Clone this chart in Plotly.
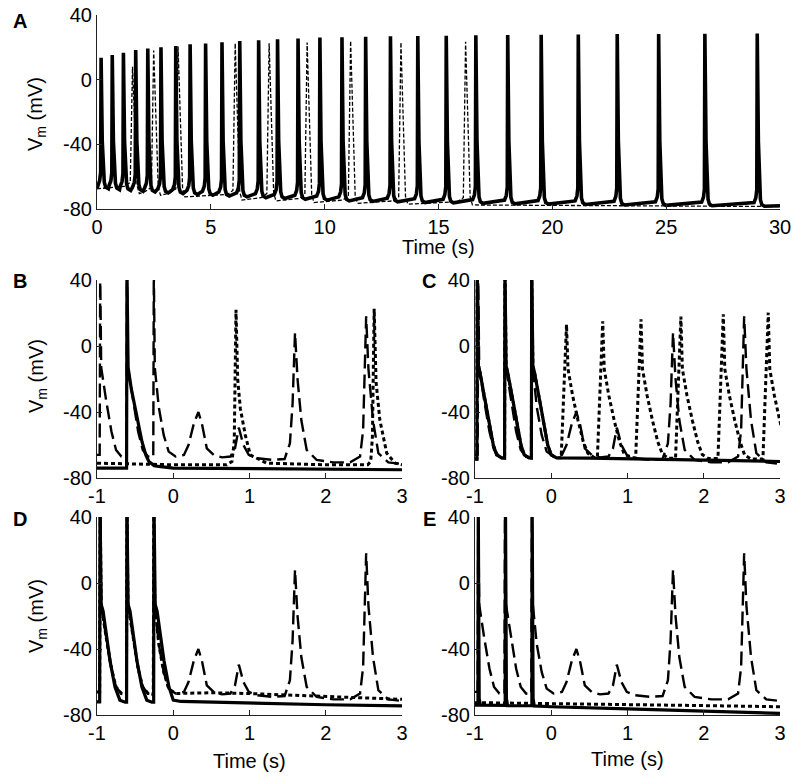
import plotly.graph_objects as go

W, H = 804, 782
FONT = "Arial, Liberation Sans, sans-serif"

# ---------------- Panel A data ----------------
A_SOLID_SPIKE_T = [0.18, 0.67, 1.16, 1.70, 2.23, 2.81, 3.46, 4.09, 4.77, 5.49, 6.27, 7.10, 7.93, 8.83,
                   9.79, 10.76, 11.80, 12.89, 14.09, 15.34, 16.64, 18.04, 19.51, 21.14, 22.85, 24.67,
                   26.70, 29.00]
A_SOLID_PEAK = [13.5, 15.3, 16.7, 18.4, 19.2, 20.0, 20.8, 21.9, 22.3, 23.1, 23.9, 24.4, 25.0, 25.4,
                26.0, 26.3, 26.6, 26.8, 27.0, 27.2, 27.4, 27.6, 27.8, 28.0, 28.2, 28.3, 28.4, 28.5]
A_SOLID_TROUGH = [-67.5, -68.0, -68.5, -69.0, -69.5, -70.0, -70.5, -71.0, -71.5, -72.0, -72.5, -73.0,
                  -73.5, -74.0, -74.5, -75.0, -75.3, -75.6, -76.0, -76.2, -76.5, -76.8, -77.0, -77.2,
                  -77.5, -77.7, -78.0, -78.3]
A_SOLID_START = (0.0, -67.2)
A_SOLID_END = (30.0, -78.0)

A_DASH_SPIKE_T = [1.56, 2.49, 3.56, 6.07, 7.56, 9.23, 11.14, 13.35, 16.19]
A_DASH_PEAK = [8.0, 18.0, 20.5, 22.5, 22.5, 23.0, 24.0, 23.0, 23.5]
A_DASH_TROUGH = [-70.5, -71.5, -72.5, -74.5, -75.0, -76.0, -76.5, -77.0, -77.5]
A_DASH_START = (0.0, -67.5)
A_DASH_END = (30.0, -78.5)

# ---------------- Panels B-E: shared control trace (long dashes) ----------------
CTRL_T = [-1.0, -0.965, -0.958, -0.945, -0.88, -0.81, -0.75, -0.68, -0.614, -0.607, -0.594, -0.53,
          -0.46, -0.40, -0.33, -0.262, -0.255, -0.242, -0.19, -0.125, -0.06, 0.03, 0.14, 0.20, 0.27,
          0.33, 0.38, 0.44, 0.53, 0.64, 0.75, 0.81, 0.86, 0.92, 0.99, 1.10, 1.30, 1.46, 1.53, 1.565,
          1.597, 1.63, 1.68, 1.75, 1.88, 2.10, 2.32, 2.45, 2.49, 2.53, 2.56, 2.62, 2.69, 2.82, 3.0]
CTRL_V = [-66, -66, 45, -13, -33, -52, -63, -67, -67.5, 45, -13, -33, -52, -63, -67, -67.5, 45, -13,
          -37, -54, -64, -67, -66, -60, -47, -40, -48, -62, -66, -67.5, -67, -62, -49.5, -60, -66,
          -68, -69, -68.5, -59, -35, 8, -20, -45, -63, -69, -70.5, -70.5, -67, -51, 18, -14, -45,
          -65, -70.5, -71.5]
CTRL_PRE_ZERO_N = 22  # points of the control trace up to t = 0.03

# Panel B
B_SOLID_T = [-1.0, -0.612, -0.607, -0.592, -0.55, -0.497, -0.45, -0.41, -0.36, -0.32, -0.25, -0.19,
             0.0, 1.0, 2.0, 3.0]
B_SOLID_V = [-74, -74, 45, -13, -26, -38, -50, -58, -66, -70, -72.5, -73, -74, -74.3, -74.7, -75]
B_DOT_T = [-1.0, -0.6, 0.0, 0.70, 0.77, 0.80, 0.823, 0.845, 0.88, 0.945, 1.01, 1.05, 1.225, 2.0,
           2.55, 2.59, 2.612, 2.635, 2.66, 2.71, 2.80, 2.91, 3.0]
B_DOT_V = [-71, -71.5, -72, -72, -70, -58, 22, -20, -38, -54, -66, -67, -71, -72, -72, -70, -55,
           22.5, -22, -45, -65, -71, -72]

# Panel C
C_SOLID_T = [-1.0, -0.975, -0.97, -0.955, -0.935, -0.87, -0.80, -0.76, -0.715, -0.65, -0.612,
             -0.607, -0.592, -0.572, -0.507, -0.44, -0.397, -0.353, -0.29, -0.261,
             -0.256, -0.241, -0.22, -0.156, -0.09, -0.046, 0.0, 0.07, 0.5, 1.0, 2.0, 3.0]
C_SOLID_V = [-68.5, -68.5, 45, -12, -16, -32, -50, -60, -66, -67.8, -68,
             45, -12, -16, -32, -50, -60, -66, -67.8, -68,
             45, -12, -16, -32, -50, -60, -66, -67.8, -68, -68.3, -69, -70]
C_PRE_ZERO_N = 28  # points of the C solid trace up to t = 0.07
C_DOT_SPIKE_T = [0.20, 0.675, 1.177, 1.70, 2.256, 2.846]
C_DOT_PEAK = [13.0, 15.0, 16.2, 17.8, 19.2, 20.2]
C_DOT_TROUGH = [-67.5, -67.7, -68.0, -68.2, -68.5, -68.7]

# Panel D
D_SOLID_T = [-1.0, -0.965, -0.96, -0.945, -0.92, -0.83, -0.764, -0.70, -0.63, -0.612,
             -0.607, -0.592, -0.567, -0.477, -0.411, -0.347, -0.28, -0.257,
             -0.252, -0.237, -0.212, -0.122, -0.056, 0.0, 0.1, 1.0, 2.0, 3.0]
D_SOLID_V = [-72, -72, 45, -13, -17, -47, -63, -71, -72.2, -72.2,
             45, -13, -17, -47, -63, -71, -72.2, -72.2,
             45, -13, -17, -47, -63, -71, -71.8, -72.8, -73.8, -74.5]
D_DOT_TAIL_T = [0.5, 1.0, 1.6, 2.5, 3.0]
D_DOT_TAIL_V = [-66.5, -67, -68, -69.5, -70.5]

# Panel E
E_SOLID_T = [-1.0, -0.961, -0.957, -0.945, -0.93, -0.604, -0.6, -0.588, -0.573, -0.254, -0.25,
             -0.238, -0.223, 0.0, 1.0, 2.0, 3.0]
E_SOLID_V = [-74, -74, 45, -70, -74, -74.2, 45, -70, -74.3, -74.4, 45, -70, -74.5, -75, -76.3,
             -77.7, -79]
E_DOT_T = [-1.0, -0.5, 0.0, 1.0, 2.0, 3.0]
E_DOT_V = [-72.5, -72.7, -73, -73.7, -74.3, -75]

Y_TICKS = [-80, -40, 0, 40]
A_X_TICKS = [0, 5, 10, 15, 20, 25, 30]
BE_X_TICKS = [-1, 0, 1, 2, 3]


def build_train(start, times, peaks, troughs, shape, end=None):
    ts, vs = [start[0]], [start[1]]
    prev = start[1]
    for t0, p, m in zip(times, peaks, troughs):
        for dt, kind, val in shape:
            ts.append(t0 + dt)
            if kind == "pre":
                vs.append(prev + val)
            elif kind == "peak":
                vs.append(p)
            elif kind == "abs":
                vs.append(val)
            else:
                vs.append(m + val)
        prev = m
    if end is not None:
        ts.append(end[0])
        vs.append(end[1])
    return ts, vs


SOLID_A_SHAPE = [(-0.14, "pre", 2), (-0.06, "pre", 5), (-0.02, "pre", 10), (0, "peak", 0),
                 (0.05, "abs", -38), (0.09, "abs", -55), (0.14, "post", 4), (0.2, "post", 1),
                 (0.32, "post", 0)]
DASH_A_SHAPE = [(-0.35, "pre", 1.5), (-0.1, "pre", 4), (0, "peak", 0), (0.2, "post", 5),
                (0.3, "post", 0)]
DOT_C_SHAPE = [(-0.07, "pre", 0), (0, "peak", 0), (0.02, "abs", -14), (0.08, "abs", -30),
               (0.15, "abs", -45), (0.22, "abs", -58), (0.28, "post", 2.5), (0.36, "post", 0)]

a_sol_t, a_sol_v = build_train(A_SOLID_START, A_SOLID_SPIKE_T, A_SOLID_PEAK, A_SOLID_TROUGH,
                               SOLID_A_SHAPE, A_SOLID_END)
a_dash_t, a_dash_v = build_train(A_DASH_START, A_DASH_SPIKE_T, A_DASH_PEAK, A_DASH_TROUGH,
                                 DASH_A_SHAPE, A_DASH_END)
c_dot_t2, c_dot_v2 = build_train((C_SOLID_T[C_PRE_ZERO_N - 1], C_SOLID_V[C_PRE_ZERO_N - 1]),
                                 C_DOT_SPIKE_T, C_DOT_PEAK, C_DOT_TROUGH, DOT_C_SHAPE)
c_dot_t = C_SOLID_T[:C_PRE_ZERO_N - 1] + c_dot_t2
c_dot_v = C_SOLID_V[:C_PRE_ZERO_N - 1] + c_dot_v2
d_dot_t = CTRL_T[:CTRL_PRE_ZERO_N] + D_DOT_TAIL_T
d_dot_v = CTRL_V[:CTRL_PRE_ZERO_N] + D_DOT_TAIL_V

SOLID_A = dict(color="black", width=3.6)
SOLID = dict(color="black", width=3.2)
LONGDASH = dict(color="black", width=2.4, dash="14px,6px")
DOT = dict(color="black", width=3.0, dash="4px,3px")
THIN_DASH = dict(color="black", width=1.3, dash="4px,2px")

fig = go.Figure()


def add(x, y, line, ax):
    fig.add_trace(go.Scatter(x=x, y=y, mode="lines", line=line, showlegend=False,
                             hoverinfo="skip", xaxis="x" + ax, yaxis="y" + ax))


# A
add(a_dash_t, a_dash_v, THIN_DASH, "")
add(a_sol_t, a_sol_v, SOLID_A, "")
# B
add(CTRL_T, CTRL_V, LONGDASH, "2")
add(B_DOT_T, B_DOT_V, DOT, "2")
add(B_SOLID_T, B_SOLID_V, SOLID, "2")
# C
add(CTRL_T, CTRL_V, LONGDASH, "3")
add(c_dot_t, c_dot_v, DOT, "3")
add(C_SOLID_T, C_SOLID_V, SOLID, "3")
# D
add(CTRL_T, CTRL_V, LONGDASH, "4")
add(d_dot_t, d_dot_v, DOT, "4")
add(D_SOLID_T, D_SOLID_V, SOLID, "4")
# E
add(CTRL_T, CTRL_V, LONGDASH, "5")
add(E_DOT_T, E_DOT_V, DOT, "5")
add(E_SOLID_T, E_SOLID_V, SOLID, "5")


def px_x(p):
    return p / W


def px_y(p):
    return 1 - p / H


def axis(dom, rng, ticks, anchor):
    return dict(domain=dom, range=rng, tickvals=ticks, ticktext=[str(t) for t in ticks],
                showline=True, linecolor="#222", linewidth=1.2, ticks="inside", ticklen=5,
                tickcolor="#222", showgrid=False, zeroline=False, mirror=False,
                tickfont=dict(family=FONT, size=20, color="black"), anchor=anchor,
                ticklabelstandoff=0, ticklabeloverflow="allow", fixedrange=True,
                automargin=False)


panels = {
    "": ((97, 780), (15, 209), (0, 30), A_X_TICKS),
    "2": ((97, 402), (280, 478), (-1, 3), BE_X_TICKS),
    "3": ((475, 780), (280, 478), (-1, 3), BE_X_TICKS),
    "4": ((97, 402), (517, 715), (-1, 3), BE_X_TICKS),
    "5": ((475, 780), (517, 715), (-1, 3), BE_X_TICKS),
}
layout_axes = {}
for k, ((x0, x1), (y0, y1), xr, xt) in panels.items():
    layout_axes["xaxis" + k] = axis([px_x(x0), px_x(x1)], list(xr), xt, "y" + k)
    layout_axes["yaxis" + k] = axis([px_y(y1), px_y(y0)], [-80, 40], Y_TICKS, "x" + k)

ann = []


def label(text, x, y, size=20, bold=False, angle=0):
    ann.append(dict(text=("<b>%s</b>" % text) if bold else text, x=px_x(x), y=px_y(y),
                    xref="paper", yref="paper", showarrow=False, textangle=angle,
                    xanchor="center", yanchor="middle",
                    font=dict(family=FONT, size=size, color="black")))


for letter, (lx, ly) in {"A": (20, 21), "B": (20, 281), "C": (429, 281), "D": (20, 519),
                         "E": (429, 519)}.items():
    label(letter, lx, ly, size=20, bold=True)

for yc in (114, 376, 616):
    label("V<sub>m</sub> (mV)", 37, yc, size=20, angle=-90)

for xc, yc in ((438, 247), (250, 761), (627, 759)):
    label("Time (s)", xc, yc, size=20)

fig.update_layout(template="none", width=W, height=H, margin=dict(l=0, r=0, t=0, b=0, pad=0),
                  autosize=False, paper_bgcolor="white", plot_bgcolor="white", annotations=ann,
                  showlegend=False, **layout_axes)

# remove the browser's default 8px page margin so the figure fills the window exactly
fig.write_html("out.html", config={"displayModeBar": False},
               post_script="document.body.style.margin='0px';")
